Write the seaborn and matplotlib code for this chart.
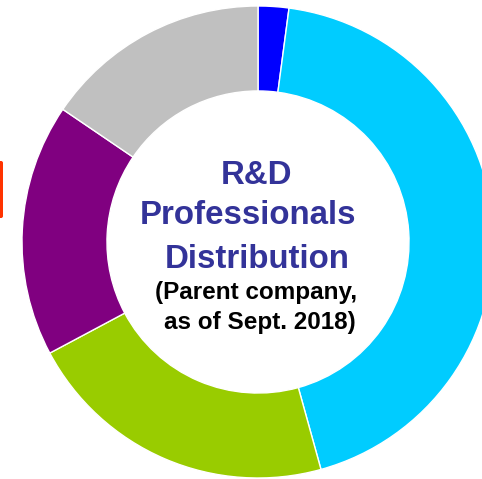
import matplotlib
matplotlib.use("Agg")
import matplotlib.pyplot as plt
from matplotlib.patches import FancyBboxPatch
import seaborn as sns

# R&D professionals by group (share, %), clockwise from 12 o'clock
groups = ["Group A", "Group B", "Group C", "Group D", "Group E"]
shares = [2.1, 43.6, 21.5, 17.3, 15.5]
colors = ["#0000FF", "#00CCFF", "#99CC00", "#800080", "#C0C0C0"]

title_lines = ["R&D", "Professionals", "Distribution"]
subtitle_lines = ["(Parent company,", "as of Sept. 2018)"]

sns.set_theme(style="white")
plt.rcParams["font.family"] = ["Liberation Sans", "DejaVu Sans"]

W, H, DPI = 482, 479, 100
fig = plt.figure(figsize=(W / DPI, H / DPI), dpi=DPI)
ax = fig.add_axes([0, 0, 1, 1])

ax.pie(
    shares,
    colors=colors,
    startangle=90,
    counterclock=False,
    radius=1.0,
    wedgeprops=dict(width=0.36, edgecolor="white", linewidth=1.0),
)

# ring centre sits at (258, 242) px, radius 236 px; part of it runs off the right edge
cx, cy, r = 258, 242, 236
ax.set_xlim(-cx / r, (W - cx) / r)
ax.set_ylim(-(H - cy) / r, cy / r)
ax.set_aspect("auto")
ax.axis("off")

def px(x, y):
    """Pixel position (from top-left) to data coordinates."""
    return (x - cx) / r, (cy - y) / r

# centre caption
title_pos = [(256.5, 175.5), (248.5, 216), (257.5, 260)]
for line, (x, y) in zip(title_lines, title_pos):
    ax.text(*px(x, y), line, ha="center", va="center", fontsize=23.8,
            fontweight="bold", color="#333399")
sub_pos = [(256.5, 292), (259.5, 322.5)]
for line, (x, y) in zip(subtitle_lines, sub_pos):
    ax.text(*px(x, y), line, ha="center", va="center", fontsize=17.5,
            fontweight="bold", color="black")

# small marker tab at the left edge
tab = FancyBboxPatch((-6 / W, (H - 218) / H), 9 / W, 57 / H,
                     boxstyle="round,pad=0,rounding_size=0.004",
                     transform=fig.transFigure, facecolor="#FF3300",
                     edgecolor="none")
fig.patches.append(tab)

fig.savefig("out.png", dpi=DPI, facecolor="white")
